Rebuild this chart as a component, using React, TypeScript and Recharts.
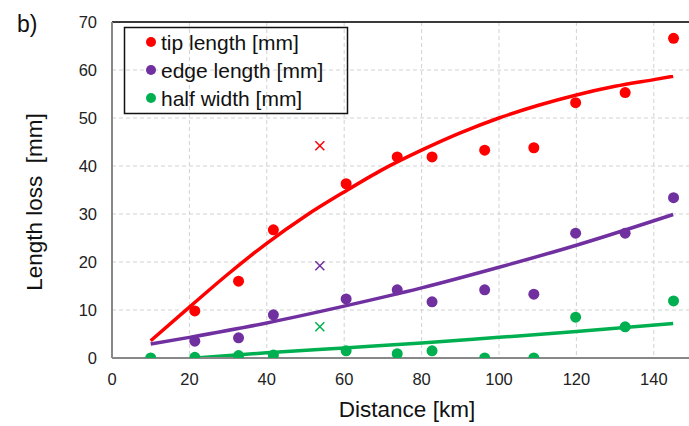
import React from 'react'
import {
  ComposedChart,
  Scatter,
  Line,
  XAxis,
  YAxis,
  CartesianGrid,
  ReferenceLine,
} from 'recharts'

// measured points, shared distances
const DISTANCE = [10, 21.4, 32.7, 41.7, 60.5, 73.7, 82.7, 96.3, 109.0, 119.8, 132.6, 145.1]
const TIP = [null, 9.8, 16.0, 26.7, 36.3, 41.9, 41.9, 43.3, 43.8, 53.2, 55.3, 66.6]
const EDGE = [null, 3.5, 4.2, 9.0, 12.3, 14.2, 11.7, 14.2, 13.3, 26.0, 26.0, 33.4]
const HALF = [0, 0.15, 0.5, 0.6, 1.5, 0.9, 1.5, 0, 0, 8.5, 6.5, 11.9]

// excluded points (x markers)
const OUTLIER_X = 53.7
const OUTLIER_TIP = 44.2
const OUTLIER_EDGE = 19.2
const OUTLIER_HALF = 6.5

// trend lines
const TIP_TREND_X = [10, 20, 30, 40, 50, 60, 70, 80, 90, 100, 110, 120, 130, 140, 145]
const TIP_TREND = [3.6, 10.6, 17.5, 23.9, 29.6, 34.6, 39.3, 43.3, 46.9, 50.0, 52.6, 54.8, 56.6, 58.0, 58.7]
const EDGE_TREND_X = [10, 20, 40, 60, 80, 100, 120, 145]
const EDGE_TREND = [2.9, 4.3, 7.3, 10.8, 14.6, 18.9, 23.5, 29.9]
const HALF_TREND_X = [21.5, 40, 60, 80, 100, 120, 145]
const HALF_TREND = [0, 1.1, 2.1, 3.1, 4.3, 5.5, 7.2]

const X_TICKS = [0, 20, 40, 60, 80, 100, 120, 140]
const Y_TICKS = [0, 10, 20, 30, 40, 50, 60, 70]

const RED = '#ff0000'
const PURPLE = '#7030a0'
const GREEN = '#00b050'
const FONT = '"Liberation Sans", Arial, sans-serif'

const toPoints = (xs: number[], ys: (number | null)[]) =>
  xs.map((x, i) => ({ x, y: ys[i] })).filter((p) => p.y !== null)

const dot = (color: string) => (props: any) =>
  <circle cx={props.cx} cy={props.cy} r={5.5} fill={color} />

const cross = (color: string) => (props: any) => {
  const { cx, cy } = props
  const s = 4.5
  return (
    <g stroke={color} strokeWidth={1.5}>
      <line x1={cx - s} y1={cy - s} x2={cx + s} y2={cy + s} />
      <line x1={cx - s} y1={cy + s} x2={cx + s} y2={cy - s} />
    </g>
  )
}

const LEGEND = [
  { label: 'tip length [mm]', color: RED },
  { label: 'edge length [mm]', color: PURPLE },
  { label: 'half width [mm]', color: GREEN },
]

export default function App() {
  const tick = { fontSize: 16.5, fill: '#222', fontFamily: FONT }
  return (
    <div style={{ position: 'fixed', left: 0, top: 0, width: 689, height: 426, overflow: 'hidden', background: '#fff' }}>
      <ComposedChart width={700} height={426} margin={{ top: 22, right: 7.5, bottom: 38, left: 50 }}>
        <CartesianGrid stroke="#d2d2d2" strokeDasharray="4 3" />
        <XAxis
          type="number"
          dataKey="x"
          domain={[0, 150]}
          ticks={X_TICKS}
          allowDataOverflow
          height={30}
          tick={tick}
          tickLine={false}
          tickSize={0}
          tickMargin={15}
          axisLine={{ stroke: '#888', strokeWidth: 2 }}
        />
        <YAxis
          type="number"
          dataKey="y"
          domain={[0, 70]}
          ticks={Y_TICKS}
          allowDataOverflow
          width={62}
          tick={tick}
          tickLine={false}
          tickSize={0}
          tickMargin={15}
          axisLine={{ stroke: '#888', strokeWidth: 2 }}
        />
        <ReferenceLine y={70} stroke="#3a3a3a" strokeWidth={2} />
        <Scatter data={toPoints(DISTANCE, TIP)} shape={dot(RED)} isAnimationActive={false} />
        <Scatter data={toPoints(DISTANCE, EDGE)} shape={dot(PURPLE)} isAnimationActive={false} />
        <Scatter data={toPoints(DISTANCE, HALF)} shape={dot(GREEN)} isAnimationActive={false} />
        <Scatter data={[{ x: OUTLIER_X, y: OUTLIER_TIP }]} shape={cross(RED)} isAnimationActive={false} />
        <Scatter data={[{ x: OUTLIER_X, y: OUTLIER_EDGE }]} shape={cross(PURPLE)} isAnimationActive={false} />
        <Scatter data={[{ x: OUTLIER_X, y: OUTLIER_HALF }]} shape={cross(GREEN)} isAnimationActive={false} />
        <Line data={toPoints(TIP_TREND_X, TIP_TREND)} dataKey="y" type="monotone" stroke={RED} strokeWidth={3.5} dot={false} isAnimationActive={false} />
        <Line data={toPoints(EDGE_TREND_X, EDGE_TREND)} dataKey="y" type="monotone" stroke={PURPLE} strokeWidth={3.5} dot={false} isAnimationActive={false} />
        <Line data={toPoints(HALF_TREND_X, HALF_TREND)} dataKey="y" type="monotone" stroke={GREEN} strokeWidth={3.5} dot={false} isAnimationActive={false} />
      </ComposedChart>
      <svg width={689} height={426} style={{ position: 'absolute', left: 0, top: 0, pointerEvents: 'none' }} fontFamily={FONT}>
        <text x={17} y={32} fontSize={23} fill="#111">b)</text>
        <text
          x={42}
          y={202}
          fontSize={22.5}
          fill="#111"
          textAnchor="middle"
          transform="rotate(-90 42 202)"
          style={{ whiteSpace: 'pre' }}
        >
          {'Length loss  [mm]'}
        </text>
        <text x={407} y={417} fontSize={22.5} fill="#111" textAnchor="middle">Distance [km]</text>
        <rect x={124.5} y={27.5} width={223} height={86} fill="none" stroke="#111" strokeWidth={1.5} />
        {LEGEND.map((item, i) => (
          <g key={item.label}>
            <circle cx={151} cy={42 + i * 28} r={5} fill={item.color} />
            <text x={161} y={42 + i * 28} dy="0.36em" fontSize={21} fill="#111">{item.label}</text>
          </g>
        ))}
      </svg>
    </div>
  )
}
